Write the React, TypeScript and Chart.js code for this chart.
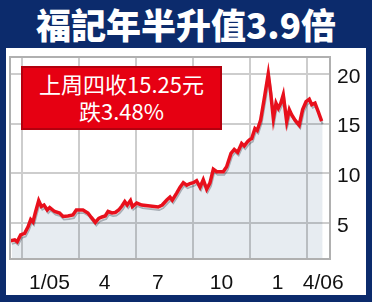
import React, { useEffect, useRef } from 'react';
import { Chart, registerables } from 'chart.js';

// x positions: months since 1 Jan 2005 (fractional), y: share price (HK$)
const monthPos = [
  -0.59, -0.38, -0.25, -0.07, 0.14, 0.32, 0.46, 0.58, 0.70, 0.88,
  1.02, 1.16, 1.33, 1.46, 1.72, 1.98, 2.16, 2.42, 2.68, 2.86,
  3.21, 3.47, 3.65, 3.86, 4.04, 4.21, 4.38, 4.53, 4.74, 4.91,
  5.09, 5.26, 5.41, 5.54, 5.71, 5.81, 6.04, 6.30, 7.17, 7.38,
  7.62, 7.79, 7.91, 8.14, 8.32, 8.49, 8.67, 8.84, 9.02, 9.19,
  9.37, 9.54, 9.72, 9.89, 10.07, 10.25, 10.59, 10.77, 11.0, 11.17,
  11.35, 11.56, 11.70, 11.88, 12.0, 12.09, 12.26, 12.38, 12.56, 12.74,
  12.96, 13.09, 13.23, 13.37, 13.49, 13.62, 13.75, 13.93, 14.07, 14.19,
  14.37, 14.59, 14.77, 14.95, 15.12, 15.25, 15.42, 15.59, 15.77,
];
const price = [
  3.2, 3.3, 3.1, 3.8, 3.95, 4.6, 5.35, 5.1, 6.0, 7.25,
  6.65, 6.8, 6.3, 6.55, 6.15, 6.0, 5.65, 5.7, 5.8, 6.3,
  6.3, 6.0, 5.55, 5.05, 5.45, 5.6, 5.7, 6.15, 6.0, 6.05,
  6.3, 6.7, 7.15, 6.8, 7.25, 6.65, 7.0, 6.8, 6.6, 6.8,
  7.3, 7.6, 7.3, 8.0, 8.6, 9.05, 8.8, 8.95, 9.05, 9.25,
  8.6, 9.35, 8.4, 9.0, 10.4, 10.15, 10.15, 10.65, 12.0, 12.4,
  12.1, 13.0, 12.75, 13.2, 13.4, 13.5, 14.5, 14.3, 15.35, 17.4,
  20.0, 18.05, 15.5, 17.05, 16.55, 17.05, 17.9, 15.2, 16.4, 15.9,
  15.35, 14.85, 16.4, 17.2, 17.45, 16.9, 17.05, 16.2, 15.25,
];

const xMin = -0.63;
const xMax = 16.21;
const yMin = 1.37;
const yMax = 21.7;
const yTicks = [5, 10, 15, 20];
const xGridTicks = [0, 3, 6, 9, 12, 15];
const xLabelPos = [1.45, 4.35, 7.15, 10.5, 13.45, 15.85];
const xLabels = ['1/05', '4', '7', '10', '1', '4/06'];

const titleText = '福記年半升值3.9倍';
const noteLines = ['上周四收15.25元', '跌3.48%'];

// draws the shadow/fill dataset (index 0) slightly offset, multiplied over the grid
const shadowPlugin = {
  id: 'shadowShift',
  beforeDatasetDraw(chart: any, args: any) {
    if (args.index !== 0) return;
    const { ctx, chartArea } = chart;
    ctx.save();
    ctx.beginPath();
    ctx.rect(chartArea.left, chartArea.top, chartArea.right - chartArea.left, chartArea.bottom - chartArea.top);
    ctx.clip();
    ctx.globalCompositeOperation = 'multiply';
    ctx.translate(1, 3);
  },
  afterDatasetDraw(chart: any, args: any) {
    if (args.index !== 0) return;
    chart.ctx.restore();
  },
};

Chart.register(shadowPlugin);
Chart.register(...registerables);

const framePlugin = {
  id: 'frame',
  afterDatasetsDraw(chart: any) {
    const { ctx, chartArea } = chart;
    ctx.save();
    ctx.strokeStyle = '#b0b0b0';
    ctx.lineWidth = 2;
    ctx.strokeRect(chartArea.left, chartArea.top, chartArea.right - chartArea.left, chartArea.bottom - chartArea.top);
    ctx.restore();
  },
};

const axisFont = { family: '"Liberation Sans", Arial, sans-serif', size: 21 };
const gridColor = '#cdcdcd';

export default function App() {
  const ref = useRef<HTMLCanvasElement>(null);

  useEffect(() => {
    const points = monthPos.map((x, i) => ({ x, y: price[i] }));
    const chart = new Chart(ref.current as HTMLCanvasElement, {
      type: 'line',
      data: {
        datasets: [
          {
            data: points,
            borderColor: '#b5b9be',
            borderWidth: 2,
            backgroundColor: '#e7ecf1',
            fill: 'start',
            pointRadius: 0,
            tension: 0,
            clip: false as any,
            order: 2,
            xAxisID: 'x',
            yAxisID: 'y',
          },
          {
            data: points,
            borderColor: '#e8101c',
            borderWidth: 3.5,
            fill: false,
            pointRadius: 0,
            tension: 0,
            order: 1,
            xAxisID: 'x',
            yAxisID: 'y',
          },
        ],
      },
      options: {
        animation: false,
        responsive: false,
        layout: { padding: { left: 10, top: 57, right: 0, bottom: 0 } },
        plugins: {
          legend: { display: false },
          tooltip: { enabled: false },
          title: { display: false },
        },
        scales: {
          x: {
            type: 'linear',
            position: 'bottom',
            min: xMin,
            max: xMax,
            afterBuildTicks: (s: any) => {
              s.ticks = xGridTicks.map((v) => ({ value: v }));
            },
            ticks: { display: false },
            grid: { color: gridColor, lineWidth: 2, drawTicks: false },
            border: { display: false },
            afterFit: (s: any) => {
              s.height = 0;
            },
          },
          x2: {
            type: 'linear',
            position: 'bottom',
            min: xMin,
            max: xMax,
            afterBuildTicks: (s: any) => {
              s.ticks = xLabelPos.map((v) => ({ value: v }));
            },
            ticks: {
              autoSkip: false,
              maxRotation: 0,
              color: '#111',
              font: axisFont,
              padding: 12,
              callback: (_v: any, i: number) => xLabels[i],
            },
            grid: { display: false, drawTicks: false },
            border: { display: false },
            afterFit: (s: any) => {
              s.height = 43;
            },
          },
          y: {
            type: 'linear',
            position: 'right',
            min: yMin,
            max: yMax,
            afterBuildTicks: (s: any) => {
              s.ticks = yTicks.map((v) => ({ value: v }));
            },
            ticks: {
              color: '#111',
              font: axisFont,
              padding: 7,
              labelOffset: 3,
              callback: (v: any) => String(v),
            },
            grid: { color: gridColor, lineWidth: 2, drawTicks: false },
            border: { display: false },
            afterFit: (s: any) => {
              s.width = 42;
            },
          },
        },
      },
      plugins: [framePlugin],
    });
    return () => chart.destroy();
  }, []);

  return (
    <div style={{ position: 'absolute', left: 0, top: 0, width: 372, height: 302, background: '#0c2b6c', overflow: 'hidden' }}>
      <div
        style={{
          position: 'absolute',
          left: 0,
          top: 2,
          width: 372,
          height: 44,
          lineHeight: '44px',
          textAlign: 'center',
          color: '#fff',
          fontFamily: '"Noto Sans CJK TC", "Noto Sans", sans-serif',
          fontWeight: 900,
          fontSize: 35,
          whiteSpace: 'nowrap',
        }}
      >
        {titleText}
      </div>
      <div style={{ position: 'absolute', left: 6, top: 48, width: 360, height: 247, background: '#fff' }} />
      <canvas ref={ref} width={372} height={302} style={{ position: 'absolute', left: 0, top: 0, width: 372, height: 302 }} />
      <div
        style={{
          position: 'absolute',
          left: 21,
          top: 66,
          width: 197,
          height: 58,
          background: '#e60012',
          border: '2px solid #b3000e',
          color: '#fff',
          fontFamily: '"Noto Sans CJK TC", "Noto Sans", sans-serif',
          fontSize: 22,
          lineHeight: '27px',
          textAlign: 'center',
          paddingTop: 2,
          boxSizing: 'content-box',
          whiteSpace: 'nowrap',
        }}
      >
        <div>{noteLines[0]}</div>
        <div>{noteLines[1]}</div>
      </div>
    </div>
  );
}
